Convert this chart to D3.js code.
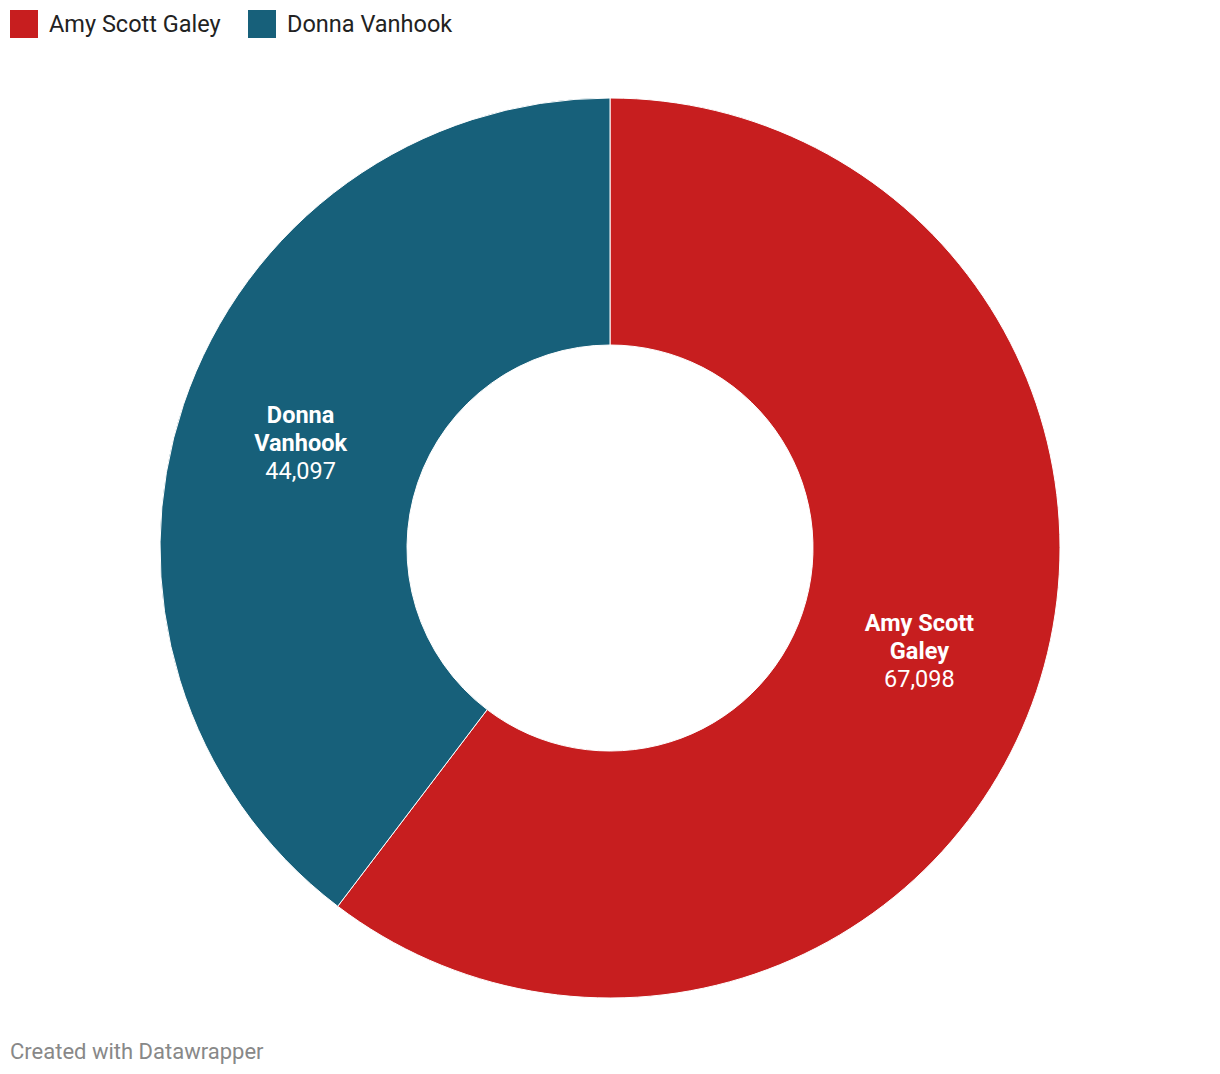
<!DOCTYPE html>
<html><head><meta charset="utf-8">
<script src="https://cdn.jsdelivr.net/npm/d3@7"></script>
<style>
body{margin:0;background:#fff;font-family:Roboto,sans-serif;}
</style></head>
<body><svg id="c" width="1220" height="1074"></svg>
<script>
const categories = ["Amy Scott Galey", "Donna Vanhook"];
const values = [67098, 44097];
const labelLines = [["Amy Scott", "Galey"], ["Donna", "Vanhook"]];
const colors = ["#c71e1f", "#17607a"];

const svg = d3.select("#c");
const cx = 610, cy = 548, outerR = 450, innerR = 203;
const color = d3.scaleOrdinal().domain(categories).range(colors);
const data = categories.map((c, i) => ({name: c, value: values[i], lines: labelLines[i]}));
const pie = d3.pie().value(d => d.value).sort(null);
const arc = d3.arc().innerRadius(innerR).outerRadius(outerR);
const g = svg.append("g").attr("transform", `translate(${cx},${cy})`);
const arcs = pie(data);
g.selectAll("path").data(arcs).join("path")
  .attr("d", arc).attr("fill", d => color(d.data.name))
  .attr("stroke", "#fff").attr("stroke-width", 1);

const fmt = d3.format(",");
const lab = g.selectAll("text.lab").data(arcs).join("text").attr("class", "lab")
  .attr("text-anchor", "middle").attr("fill", "#fff").style("font-size", "23.5px");
lab.each(function(d) {
  const [x, y] = arc.centroid(d);
  const t = d3.select(this);
  const lines = d.data.lines;
  const n = lines.length + 1;
  lines.forEach((l, i) => {
    t.append("tspan").attr("x", x).attr("y", y + (i - (n - 1) / 2) * 28 + 7)
      .style("font-weight", "700").text(l);
  });
  t.append("tspan").attr("x", x).attr("y", y + (lines.length - (n - 1) / 2) * 28 + 7)
    .text(fmt(d.data.value));
});

// legend
const legX = [10, 248];
const leg = svg.selectAll("g.leg").data(categories).join("g").attr("class", "leg")
  .attr("transform", (d, i) => `translate(${legX[i]},10)`);
leg.append("rect").attr("width", 28).attr("height", 28).attr("fill", d => color(d));
leg.append("text").attr("x", 39).attr("y", 21.5).attr("fill", "#222")
  .style("font-size", "23.5px").text(d => d);

svg.append("text").attr("x", 10).attr("y", 1059).attr("fill", "#888")
  .style("font-size", "22px").text("Created with Datawrapper");
</script></body></html>
